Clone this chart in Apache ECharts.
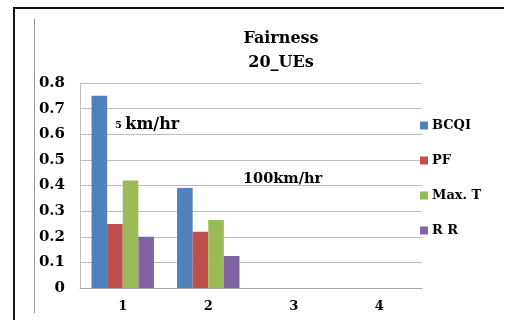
<!DOCTYPE html>
<html>
<head>
<meta charset="utf-8">
<script src="https://cdn.jsdelivr.net/npm/echarts@6/dist/echarts.min.js"></script>
<style>
  html, body { margin: 0; padding: 0; background: #fff; }
  #chart { width: 505px; height: 320px; }
</style>
</head>
<body>
<div id="chart"></div>
<script>
// Fairness index per scheduler, 20 UEs
const categories = ['1', '2', '3', '4'];
const bcqi = [0.75, 0.39, 0, 0];
const pf = [0.25, 0.22, 0, 0];
const maxT = [0.42, 0.265, 0, 0];
const rr = [0.2, 0.125, 0, 0];
const seriesNames = ['BCQI', 'PF', 'Max. T', 'R R'];
const colors = ['#4F81BD', '#C0504D', '#9BBB59', '#8064A2'];

const serif = '"DejaVu Serif", "Liberation Serif", serif';
const chart = echarts.init(document.getElementById('chart'), null, { renderer: 'canvas' });

const mkSeries = (name, data, i) => ({
  name: name,
  type: 'bar',
  data: data,
  barGap: '0%',
  barCategoryGap: '27%',
  itemStyle: { color: colors[i] },
  emphasis: { disabled: true }
});

chart.setOption({
  animation: false,
  color: colors,
  title: {
    text: 'Fairness\n20_UEs',
    left: 276,
    textAlign: 'center',
    top: 22,
    textStyle: { fontFamily: serif, fontWeight: 'bold', fontSize: 16, lineHeight: 24, color: '#000' }
  },
  legend: {
    orient: 'vertical',
    left: 415,
    top: 114,
    itemWidth: 8,
    itemHeight: 8,
    itemGap: 22,
    icon: 'rect',
    textStyle: { fontFamily: serif, fontWeight: 'bold', fontSize: 13, color: '#000', padding: [0, 0, 0, -1] },
    data: seriesNames
  },
  grid: { left: 80, right: 83, top: 83, bottom: 32 },
  xAxis: {
    type: 'category',
    data: categories,
    axisLine: { lineStyle: { color: '#A6A6A6' } },
    axisTick: { show: false },
    axisLabel: { fontFamily: serif, fontWeight: 'bold', fontSize: 13, color: '#000', margin: 12 }
  },
  yAxis: {
    type: 'value',
    min: 0,
    max: 0.8,
    interval: 0.1,
    axisLine: { show: true, lineStyle: { color: '#C0C0C0' } },
    axisTick: { show: false },
    splitLine: { lineStyle: { color: '#BDBDBD', width: 1 } },
    axisLabel: {
      fontFamily: serif, fontWeight: 'bold', fontSize: 15, color: '#000', margin: 15,
      formatter: v => (Math.round(v * 10) / 10).toString()
    }
  },
  series: [
    mkSeries(seriesNames[0], bcqi, 0),
    mkSeries(seriesNames[1], pf, 1),
    mkSeries(seriesNames[2], maxT, 2),
    mkSeries(seriesNames[3], rr, 3)
  ],
  graphic: [
    // page frame
    { type: 'line', shape: { x1: 14, y1: 8, x2: 14, y2: 320 }, style: { stroke: '#111', lineWidth: 2 }, silent: true },
    { type: 'line', shape: { x1: 13, y1: 8, x2: 504, y2: 8 }, style: { stroke: '#111', lineWidth: 2 }, silent: true },
    { type: 'line', shape: { x1: 34.5, y1: 19, x2: 34.5, y2: 313 }, style: { stroke: '#9A9A9A', lineWidth: 1 }, silent: true },
    // speed annotations
    {
      type: 'text', left: 115, top: 117, silent: true,
      style: {
        text: '{s|5} {b|km/hr}',
        rich: {
          s: { fontFamily: serif, fontWeight: 'bold', fontSize: 10, color: '#000', verticalAlign: 'middle' },
          b: { fontFamily: serif, fontWeight: 'bold', fontSize: 16, color: '#000' }
        }
      }
    },
    {
      type: 'text', left: 243, top: 172, silent: true,
      style: { text: '100km/hr', fontFamily: serif, fontWeight: 'bold', fontSize: 14.5, fill: '#000' }
    }
  ]
});
</script>
</body>
</html>
